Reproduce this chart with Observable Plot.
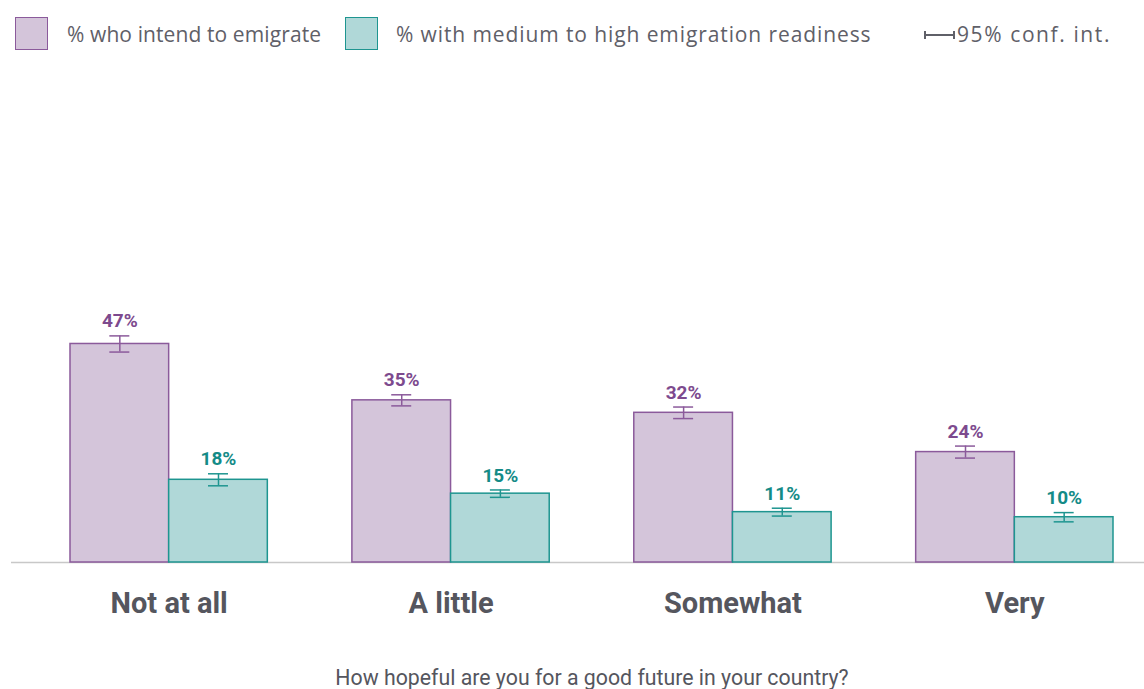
<!DOCTYPE html>
<html>
<head>
<meta charset="utf-8">
<script src="https://cdn.jsdelivr.net/npm/d3@7"></script>
<script src="https://cdn.jsdelivr.net/npm/@observablehq/plot@0.6"></script>
<style>
  html, body { margin: 0; padding: 0; background: #fff; }
  #wrap { width: 1144px; height: 689px; position: relative; overflow: hidden; }
  #legend { position: relative; height: 70px; width: 1144px; font-family: "Open Sans", Lato, sans-serif; font-size: 21px; color: #5f6068; }
  .sw { position: absolute; top: 17px; width: 31px; height: 31px; box-sizing: content-box; }
  .lt { position: absolute; top: 20px; line-height: 28px; white-space: nowrap; }
  #ci { position: absolute; left: 923px; top: 27px; }
  #caption { position: absolute; left: 20px; top: 665px; width: 1144px; text-align: center; font-family: Roboto, sans-serif; font-size: 21.3px; color: #55565e; }
</style>
</head>
<body>
<div id="wrap">
  <div id="legend">
    <div class="sw" style="left:15px; background:#d4c5da; border:1.5px solid #8b5a9b;"></div>
    <div class="lt" style="left:67px; letter-spacing:0.1px;">% who intend to emigrate</div>
    <div class="sw" style="left:345px; background:#b0d8d8; border:1.5px solid #1e9590;"></div>
    <div class="lt" style="left:396px; letter-spacing:0.9px;">% with medium to high emigration readiness</div>
    <svg id="ci" width="34" height="16"><line x1="2" y1="4" x2="2" y2="12" stroke="#5f6068" stroke-width="2"/><line x1="2" y1="8" x2="31" y2="8" stroke="#5f6068" stroke-width="2"/><line x1="31" y1="4" x2="31" y2="12" stroke="#5f6068" stroke-width="2"/></svg>
    <div class="lt" style="left:957px; letter-spacing:1.6px;">95% conf. int.</div>
  </div>
  <div id="chart"></div>
  <div id="caption">How hopeful are you for a good future in your country?</div>
</div>
<script>
const categories = ["Not at all", "A little", "Somewhat", "Very"];
const intend = [47.3, 35.1, 32.4, 23.9];
const intendCI = [1.75, 1.2, 1.25, 1.3];
const readiness = [17.9, 14.9, 10.9, 9.8];
const readinessCI = [1.3, 0.8, 0.85, 1.0];
const seriesNames = ["% who intend to emigrate", "% with medium to high emigration readiness"];

const purple = {fill: "#d4c5da", stroke: "#8b5a9b", text: "#7d4a8e"};
const teal = {fill: "#b0d8d8", stroke: "#1e9590", text: "#148b87"};

const W = 1144, H = 562, ML = 70, MR = 31, MT = 30, MB = 70;
const pad = 0.3;
const step = (W - ML - MR) / (categories.length - pad);
const bw = step * (1 - pad);
const half = bw / 2;
const cap = 20;

const rowsA = categories.map((c, i) => ({cat: c, v: intend[i], lo: intend[i] - intendCI[i], hi: intend[i] + intendCI[i], s: seriesNames[0]}));
const rowsB = categories.map((c, i) => ({cat: c, v: readiness[i], lo: readiness[i] - readinessCI[i], hi: readiness[i] + readinessCI[i], s: seriesNames[1]}));

function seriesMarks(rows, col, left) {
  const dx = left ? -half / 2 : half / 2;
  const capInL = left ? half / 2 - cap / 2 : half + half / 2 - cap / 2;
  const capInR = bw - capInL - cap;
  return [
    Plot.barY(rows, {x: "cat", y: "v", fill: col.fill, stroke: col.stroke, strokeWidth: 1.5,
      insetLeft: left ? 0 : half, insetRight: left ? half : 0, insetTop: 0, insetBottom: 0}),
    Plot.ruleX(rows, {x: "cat", y1: "lo", y2: "hi", dx, stroke: col.stroke, strokeWidth: 1.5}),
    Plot.tickY(rows, {x: "cat", y: "lo", stroke: col.stroke, strokeWidth: 1.5, insetLeft: capInL, insetRight: capInR}),
    Plot.tickY(rows, {x: "cat", y: "hi", stroke: col.stroke, strokeWidth: 1.5, insetLeft: capInL, insetRight: capInR}),
    Plot.text(rows, {x: "cat", y: "hi", text: d => Math.round(d.v) + "%", dx, dy: -14.5,
      fill: col.text, fontWeight: 700, fontSize: 19, fontFamily: "Roboto"})
  ];
}

const chart = Plot.plot({
  width: W, height: H,
  marginLeft: ML, marginRight: MR, marginTop: MT, marginBottom: MB,
  style: {fontFamily: "Roboto, sans-serif", overflow: "visible", background: "transparent"},
  x: {type: "band", domain: categories, paddingInner: pad, paddingOuter: 0, round: false, axis: null},
  y: {domain: [0, 100], axis: null},
  marks: [
    Plot.ruleY([0], {stroke: "#c8c8c8", strokeWidth: 1.5, insetLeft: -(ML - 11), insetRight: -MR}),
    ...seriesMarks(rowsA, purple, true),
    ...seriesMarks(rowsB, teal, false),
    Plot.text(categories, {x: d => d, frameAnchor: "bottom", dy: 50, text: d => d,
      fontSize: 29, fontWeight: 700, fill: "#55565e", fontFamily: "Roboto"})
  ]
});
document.getElementById("chart").appendChild(chart);
</script>
</body>
</html>
